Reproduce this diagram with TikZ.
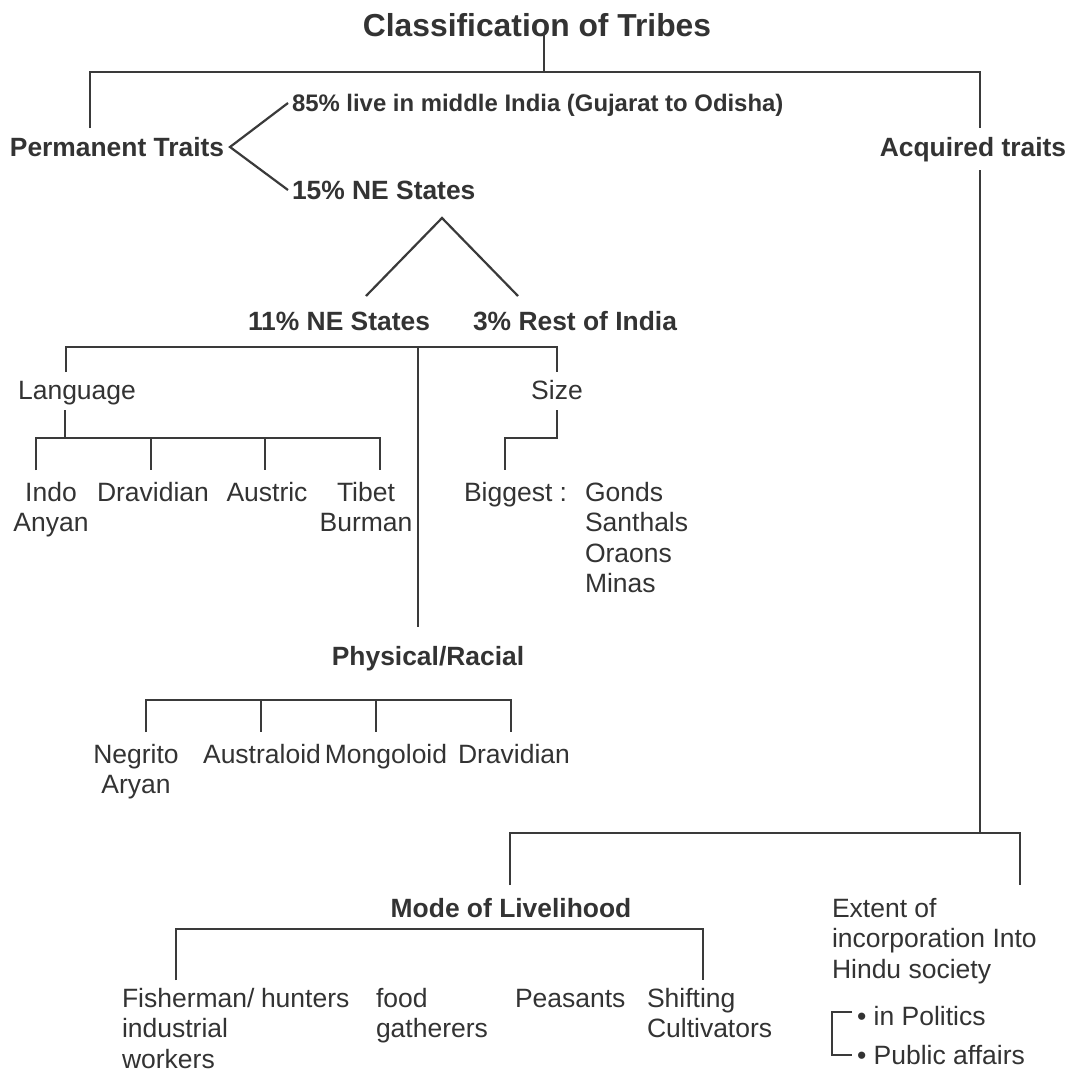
\documentclass[tikz,border=0pt]{standalone}
\usepackage{fontspec}
\setmainfont{Liberation Sans}
\definecolor{textcol}{HTML}{333333}
\definecolor{linecol}{HTML}{3A3A3A}
\newcommand\fR{\fontsize{26.5}{30.5}\selectfont}
\newcommand\fB{\fontsize{26.4}{30.5}\selectfont\bfseries}
\newcommand\mlc[1]{\begin{tabular}[t]{@{}c@{}}#1\end{tabular}}
\newcommand\mll[1]{\begin{tabular}[t]{@{}l@{}}#1\end{tabular}}
\begin{document}
\begin{tikzpicture}[x=1pt,y=-1pt,
  txt/.style={inner sep=0pt, outer sep=0pt, text=textcol, anchor=base, font=\fR},
  txtl/.style={txt, anchor=base west},
  bold/.style={font=\fB},
  lin/.style={draw=linecol, line width=2.2pt, line join=miter},
  thin/.style={draw=linecol, line width=1.8pt}]
\useasboundingbox (0,0) rectangle (1070,1071);
\fill[white] (0,0) rectangle (1070,1071);
% texts
\node[txt, font=\fontsize{31.8}{34}\selectfont\bfseries] (title) at (537,36) {Classification of Tribes};
\node[txt, bold] (perm) at (117,156) {Permanent Traits};
\node[txt, bold] (acq) at (973,156) {Acquired traits};
\node[txtl, font=\fontsize{23.9}{28}\selectfont\bfseries] (p85) at (292,111) {85\% live in middle India (Gujarat to Odisha)};
\node[txtl, bold] (p15) at (292,199) {15\% NE States};
\node[txt, bold] (ne11) at (339,330) {11\% NE States};
\node[txt, bold] (r3) at (575,330) {3\% Rest of India};
\node[txt] (lang) at (77,399) {Language};
\node[txt] (size) at (557,399) {Size};
\node[txt] (indo) at (51,501) {\mlc{Indo\\Anyan}};
\node[txt] (drav) at (153,501) {Dravidian};
\node[txt] (aust) at (267,501) {Austric};
\node[txt] (tibet) at (366,501) {\mlc{Tibet\\Burman}};
\node[txtl] (big) at (464,501) {Biggest :};
\node[txtl] (gonds) at (585,501) {\mll{Gonds\\Santhals\\Oraons\\Minas}};
\node[txt, bold] (phys) at (428,665) {Physical/Racial};
\node[txt] (negr) at (136,763) {\mlc{Negrito\\Aryan}};
\node[txt] (austr) at (262,763) {Australoid};
\node[txt] (mong) at (386,763) {Mongoloid};
\node[txt] (drav2) at (514,763) {Dravidian};
\node[txt, bold] (mode) at (511,917) {Mode of Livelihood};
\node[txtl] (fish) at (122,1007) {\mll{Fisherman/\\industrial\\workers}};
\node[txtl] (hunt) at (261,1007) {hunters};
\node[txtl] (food) at (376,1007) {\mll{food\\gatherers}};
\node[txtl] (peas) at (515,1007) {Peasants};
\node[txtl] (shift) at (647,1007) {\mll{Shifting\\Cultivators}};
\node[txtl] (ext) at (832,917) {\mll{Extent of\\incorporation Into\\Hindu society}};
\node[txtl] (pol) at (857,1025) {\textbullet\ in Politics};
\node[txtl] (pub) at (857,1064) {\textbullet\ Public affairs};
% junction coordinates
\coordinate (t0) at (544,33);
\coordinate (t1) at (544,72);
\coordinate (tl) at (90,72);
\coordinate (tr) at (980,72);
\coordinate (tlb) at (90,128);
\coordinate (trb) at (980,128);
\coordinate (av) at (230,147);
\coordinate (a85) at (288,103);
\coordinate (a15) at (288,190);
\coordinate (sp) at (442,218);
\coordinate (sl) at (366,296);
\coordinate (sr) at (518,296);
\coordinate (bl) at (66,347);
\coordinate (br) at (557,347);
\coordinate (bm) at (418,347);
\coordinate (bld) at (66,372);
\coordinate (brd) at (557,372);
\coordinate (bmd) at (418,627);
\coordinate (lt) at (65,410);
\coordinate (lb) at (65,438);
\coordinate (l1) at (36,438);
\coordinate (l4) at (380,438);
\coordinate (l1d) at (36,470);
\coordinate (l4d) at (380,470);
\coordinate (l2) at (151,438);
\coordinate (l2d) at (151,470);
\coordinate (l3) at (265,438);
\coordinate (l3d) at (265,470);
\coordinate (zt) at (557,410);
\coordinate (zb) at (557,438);
\coordinate (zl) at (505,438);
\coordinate (zld) at (505,470);
\coordinate (r1) at (146,700);
\coordinate (r4) at (511,700);
\coordinate (r1d) at (146,732);
\coordinate (r4d) at (511,732);
\coordinate (r2) at (261,700);
\coordinate (r2d) at (261,732);
\coordinate (r3c) at (376,700);
\coordinate (r3d) at (376,732);
\coordinate (aqt) at (980,170);
\coordinate (aqb) at (980,833);
\coordinate (ml) at (510,833);
\coordinate (mr) at (1020,833);
\coordinate (mld) at (510,885);
\coordinate (mrd) at (1020,885);
\coordinate (v1) at (176,929);
\coordinate (v5) at (703,929);
\coordinate (v1d) at (176,980);
\coordinate (v5d) at (703,980);
\coordinate (k1) at (852,1012);
\coordinate (k2) at (832,1012);
\coordinate (k3) at (832,1055);
\coordinate (k4) at (852,1055);
% connectors
\draw[lin] (t0) -- (t1);
\draw[lin] (tlb) -- (tl) -- (tr) -- (trb);
\draw[lin] (a85) -- (av) -- (a15);
\draw[lin] (sl) -- (sp) -- (sr);
\draw[lin] (bld) -- (bl) -- (br) -- (brd);
\draw[lin] (bm) -- (bmd);
\draw[lin] (lt) -- (lb);
\draw[lin] (l1d) -- (l1) -- (l4) -- (l4d);
\draw[lin] (l2) -- (l2d);
\draw[lin] (l3) -- (l3d);
\draw[lin] (zt) -- (zb) -- (zl) -- (zld);
\draw[lin] (r1d) -- (r1) -- (r4) -- (r4d);
\draw[lin] (r2) -- (r2d);
\draw[lin] (r3c) -- (r3d);
\draw[lin] (aqt) -- (aqb);
\draw[lin] (mld) -- (ml) -- (mr) -- (mrd);
\draw[lin] (v1d) -- (v1) -- (v5) -- (v5d);
\draw[thin] (k1) -- (k2) -- (k3) -- (k4);
\end{tikzpicture}
\end{document}
